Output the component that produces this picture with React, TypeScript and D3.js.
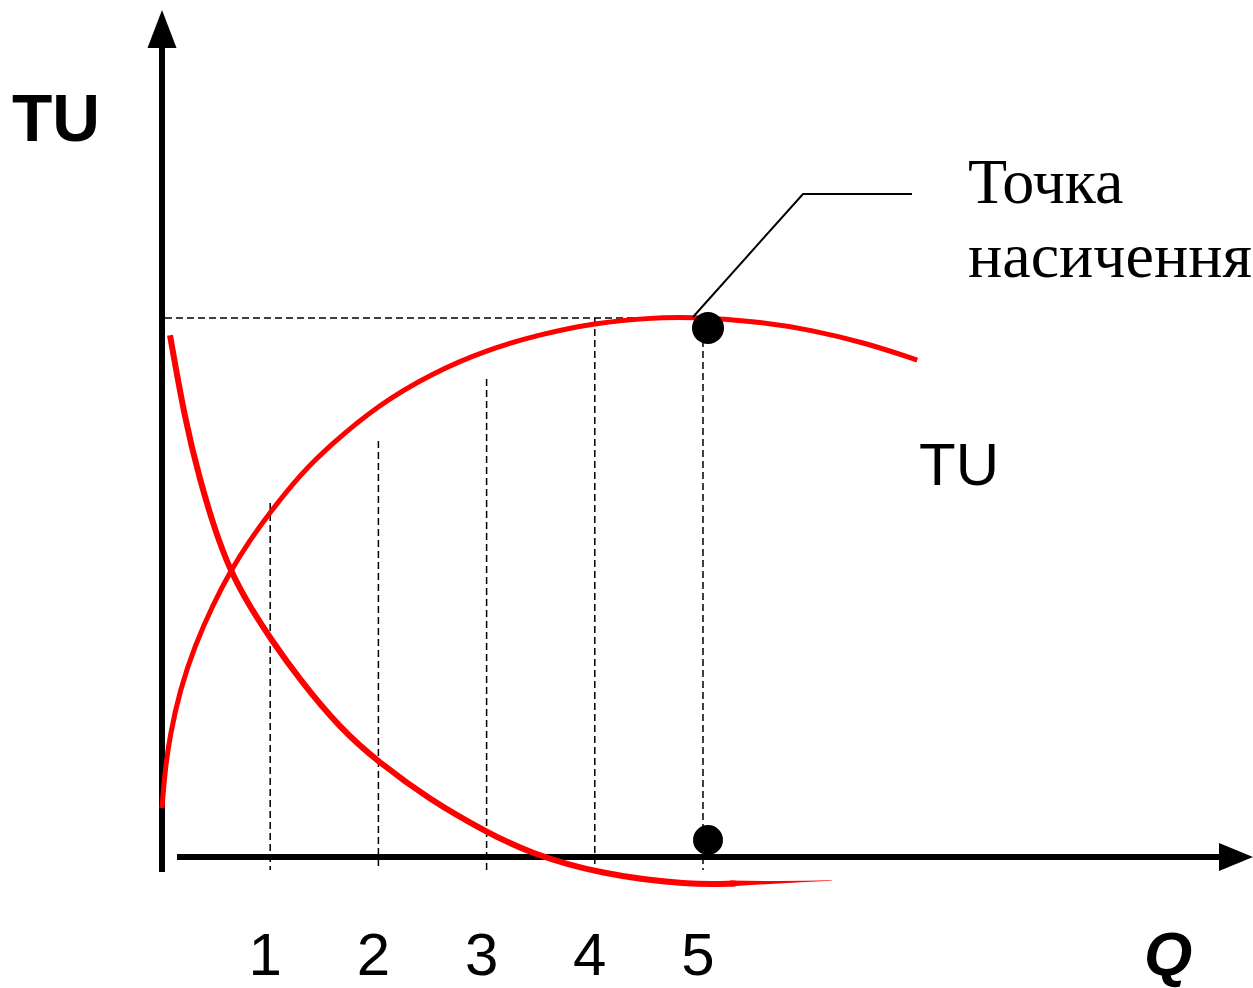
import React from "react";
import * as d3 from "d3";

// Quantity ticks
const quantities = [1, 2, 3, 4, 5];
const tickLabels = ["1", "2", "3", "4", "5"];

// Total utility curve (Q, utility units; max = 100 at Q = 5)
const tuQ = [0, 0.028, 0.074, 0.166, 0.305, 0.471, 0.628, 0.813, 1, 1.275, 1.553, 2, 2.5, 3, 3.5, 4, 4.5, 4.88, 5.5, 6, 6.5, 6.98];
const tuV = [9.1, 16.1, 22.6, 31, 39.3, 46.8, 52.9, 58.8, 64, 70.9, 76.4, 83.9, 89.8, 94.1, 97.0, 99.1, 100, 100.2, 99.4, 97.8, 95.4, 92.2];

// Marginal utility curve
const muQ = [0.074, 0.213, 0.351, 0.49, 0.628, 0.813, 1, 1.276, 1.645, 2, 2.477, 3, 3.4, 4.05, 4.88, 5.3];
const muV = [96.8, 81, 69.9, 60.6, 53.2, 46.4, 40.6, 32.8, 23.9, 17.6, 10.6, 4.6, 0.7, -3.2, -5.2, -4.9];
// tapering tail of the MU curve
const muTailQ = [5.25, 5.7, 6.19];
const muTailTop = [-4.35, -4.45, -4.3];
const muTailBottom = [-5.45, -4.9, -4.4];

// Heights of the dashed guide lines at each Q
const guideTops = [65.7, 77.2, 88.7, 100, 100];
const saturationQ = 5;
const saturationV = 100;

export default function App() {
  const x = d3.scaleLinear().domain([0, 5]).range([162, 703]);
  const y = d3.scaleLinear().domain([0, 100]).range([857, 318]);

  const tuLine = d3
    .line<number>()
    .x((_, i) => x(tuQ[i]))
    .y((d) => y(d))
    .curve(d3.curveBasis);
  const muLine = d3
    .line<number>()
    .x((_, i) => x(muQ[i]))
    .y((d) => y(d))
    .curve(d3.curveBasis);
  const tailArea = d3
    .area<number>()
    .x((_, i) => x(muTailQ[i]))
    .y0((_, i) => y(muTailBottom[i]))
    .y1((d) => y(d))
    .curve(d3.curveMonotoneX);

  const axisX0 = x(0);
  const axisY0 = y(0);
  const dash = "7,4";
  const sans = "'Liberation Sans', Arial, sans-serif";
  const serif = "'Liberation Serif', 'Times New Roman', serif";

  const satX = x(saturationQ);
  const satY = y(saturationV);

  return (
    <svg
      width={1253}
      height={988}
      style={{ position: "absolute", left: 0, top: 0, background: "#fff" }}
    >
      {/* dashed guides */}
      <line x1={axisX0 + 3} x2={satX} y1={satY} y2={satY} stroke="#000" strokeWidth={1.5} strokeDasharray={dash} />
      {quantities.map((q, i) => (
        <line
          key={q}
          x1={x(q)}
          x2={x(q)}
          y1={y(guideTops[i])}
          y2={axisY0 + 13}
          stroke="#000"
          strokeWidth={1.5}
          strokeDasharray={dash}
        />
      ))}

      {/* axes */}
      <line x1={axisX0} x2={axisX0} y1={48} y2={axisY0 + 15} stroke="#000" strokeWidth={6} />
      <polygon points={`${axisX0 - 14.5},48 ${axisX0 + 14.5},48 ${axisX0},10`} fill="#000" />
      <line x1={axisX0 + 15} x2={1220} y1={axisY0} y2={axisY0} stroke="#000" strokeWidth={6} />
      <polygon points={`1219,${axisY0 - 14} 1219,${axisY0 + 14} 1253,${axisY0}`} fill="#000" />

      {/* curves */}
      <path d={tuLine(tuV) || ""} fill="none" stroke="#ff0000" strokeWidth={5} />
      <path d={muLine(muV) || ""} fill="none" stroke="#ff0000" strokeWidth={6} />
      <path d={tailArea(muTailTop) || ""} fill="#ff0000" />

      {/* saturation points */}
      <circle cx={satX + 5} cy={satY + 10} r={16} fill="#000" />
      <circle cx={satX + 5} cy={axisY0 - 17} r={15} fill="#000" />

      {/* leader */}
      <polyline
        points={`${satX - 10},${satY - 1} 803,194 912,194`}
        fill="none"
        stroke="#000"
        strokeWidth={2}
      />

      {/* texts */}
      <text x={968} y={203} fontFamily={serif} fontSize={64} fill="#000">
        Точка
      </text>
      <text x={968} y={277} fontFamily={serif} fontSize={64} fill="#000">
        насичення
      </text>
      <text x={919} y={485} fontFamily={sans} fontSize={60} fill="#000">
        TU
      </text>
      <text x={12} y={141} fontFamily={sans} fontSize={66} fontWeight="bold" fill="#000">
        TU
      </text>
      <text x={1144} y={975} fontFamily={sans} fontSize={62} fontWeight="bold" fontStyle="italic" fill="#000">
        Q
      </text>
      {quantities.map((q, i) => (
        <text
          key={q}
          x={x(q) - 5}
          y={975}
          textAnchor="middle"
          fontFamily={sans}
          fontSize={60}
          fill="#000"
        >
          {tickLabels[i]}
        </text>
      ))}
    </svg>
  );
}
